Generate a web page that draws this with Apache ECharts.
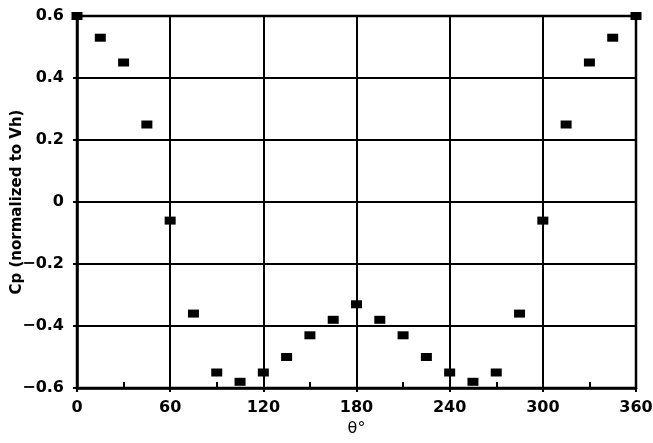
<!DOCTYPE html>
<html>
<head>
<meta charset="utf-8">
<script src="https://cdn.jsdelivr.net/npm/echarts@6/dist/echarts.min.js"></script>
<style>
  html, body { margin: 0; padding: 0; background: #fff; }
  #chart { width: 653px; height: 443px; }
</style>
</head>
<body>
<div id="chart"></div>
<script>
// angle around the cylinder (deg) and pressure coefficient
var theta = [0, 15, 30, 45, 60, 75, 90, 105, 120, 135, 150, 165, 180,
  195, 210, 225, 240, 255, 270, 285, 300, 315, 330, 345, 360]
var cp = [0.6, 0.53, 0.45, 0.25, -0.06, -0.36, -0.55, -0.58, -0.55, -0.5, -0.43, -0.38, -0.33,
  -0.38, -0.43, -0.5, -0.55, -0.58, -0.55, -0.36, -0.06, 0.25, 0.45, 0.53, 0.6]
var xTicks = [0, 60, 120, 180, 240, 300, 360]
var yTicks = [-0.6, -0.4, -0.2, 0, 0.2, 0.4, 0.6]

var points = theta.map(function(t, i) { return [t, cp[i]] })
var font = 'DejaVu Sans'

var myChart = echarts.init(document.getElementById('chart'))
var option = {
  backgroundColor: '#ffffff',
  animation: false,
  grid: {
    left: 77,
    right: 17,
    top: 16,
    bottom: 55,
    outerBoundsMode: 'none',
    containLabel: false,
    show: true,
    borderColor: '#000',
    borderWidth: 2.5
  },
  xAxis: [
    {
      type: 'value',
      min: xTicks[0],
      max: xTicks[xTicks.length - 1],
      interval: 60,
      name: 'θ°',
      nameLocation: 'middle',
      nameGap: 33,
      nameMoveOverlap: false,
      nameTextStyle: { fontFamily: font, fontSize: 16, color: '#000' },
      axisLine: { onZero: false, lineStyle: { color: '#000', width: 2.5 } },
      axisTick: { show: true, inside: false, length: 4, lineStyle: { color: '#000', width: 2 } },
      splitLine: { show: true, lineStyle: { color: '#000', width: 2 } },
      axisLabel: {
        margin: 12,
        fontFamily: font,
        fontSize: 16,
        fontWeight: 'bold',
        color: '#000'
      }
    },
    {
      // inward half-step ticks along the bottom edge
      type: 'value',
      position: 'bottom',
      min: xTicks[0],
      max: xTicks[xTicks.length - 1],
      interval: 30,
      axisLine: { show: false, onZero: false },
      axisTick: { show: true, inside: true, length: 6, lineStyle: { color: '#000', width: 2 } },
      splitLine: { show: false },
      axisLabel: { show: false }
    }
  ],
  yAxis: {
    type: 'value',
    min: yTicks[0],
    max: yTicks[yTicks.length - 1],
    interval: 0.2,
    name: 'Cp (normalized to Vh)',
    nameLocation: 'middle',
    nameGap: 52,
    nameMoveOverlap: false,
    nameTextStyle: { fontFamily: font, fontSize: 15, fontWeight: 'bold', color: '#000' },
    axisLine: { show: true, onZero: false, lineStyle: { color: '#000', width: 2.5 } },
    axisTick: { show: true, inside: false, length: 4, lineStyle: { color: '#000', width: 2 } },
    splitLine: { show: true, lineStyle: { color: '#000', width: 2 } },
    axisLabel: {
      margin: 13,
      fontFamily: font,
      fontSize: 16,
      fontWeight: 'bold',
      color: '#000',
      formatter: function(v) {
        var s = Math.abs(v) < 1e-9 ? '0' : String(Math.round(v * 10) / 10)
        return s.replace('-', '−')
      }
    }
  },
  series: [
    {
      type: 'scatter',
      data: points,
      symbol: 'rect',
      symbolSize: [11, 8],
      clip: false,
      itemStyle: { color: '#000', opacity: 1 }
    }
  ]
}
myChart.setOption(option, true)
window.addEventListener('resize', () => {
  myChart.resize()
})
</script>
</body>
</html>
